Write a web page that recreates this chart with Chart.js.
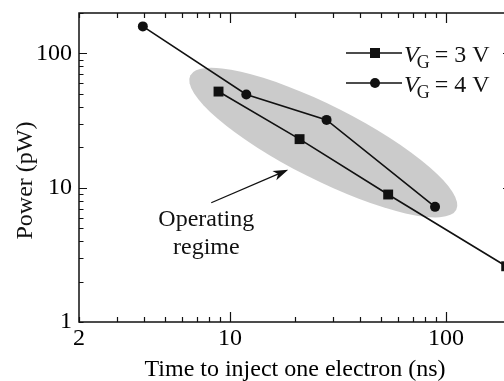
<!DOCTYPE html>
<html>
<head>
<meta charset="utf-8">
<script src="https://cdn.jsdelivr.net/npm/chart.js@4/dist/chart.umd.min.js"></script>
<style>
    html, body { margin: 0; padding: 0; background: #fff; overflow: hidden; }
    #wrap { width: 504px; height: 381px; overflow: hidden; }
</style>
</head>
<body>
<div id="wrap"><canvas id="powerChart" width="530" height="381"></canvas></div>
<script>
// V_G = 3 V (squares)
const timeVg3 = [8.85, 21, 54, 190];
const powerVg3 = [52, 23, 8.9, 2.6];
// V_G = 4 V (circles)
const timeVg4 = [3.95, 11.9, 28, 89];
const powerVg4 = [159, 49.5, 32, 7.2];

// axis ticks
const xTickValues = [2, 3, 4, 5, 6, 7, 8, 9, 10, 20, 30, 40, 50, 60, 70, 80, 90, 100, 200];
const xTickLabels = [2, 10, 100];
const yTickValues = [1, 2, 3, 4, 5, 6, 7, 8, 9, 10, 20, 30, 40, 50, 60, 70, 80, 90, 100, 200];
const yTickLabels = [1, 10, 100];

// "Operating regime" annotation, in data units
const regimeStart = [6.55, 68.5];
const regimeEnd = [111.6, 6.86];
const arrowFrom = [8.19, 7.73];
const arrowTo = [18.6, 13.6];
const regimeText = ['Operating', 'regime'];
const regimeTextAt = [7.77, 5.77];

const FONT = "'Liberation Serif', 'Times New Roman', serif";
const INK = '#111';

const toPoints = (xs, ys) => xs.map((v, i) => ({ x: v, y: ys[i] }));

const decorations = {
    id: 'decorations',
    beforeDatasetsDraw(chart) {
        const { ctx, scales: { x, y } } = chart;
        const x1 = x.getPixelForValue(regimeStart[0]);
        const y1 = y.getPixelForValue(regimeStart[1]);
        const x2 = x.getPixelForValue(regimeEnd[0]);
        const y2 = y.getPixelForValue(regimeEnd[1]);
        const a = Math.hypot(x2 - x1, y2 - y1) / 2;
        ctx.save();
        ctx.fillStyle = '#cbcbcb';
        ctx.beginPath();
        ctx.ellipse((x1 + x2) / 2, (y1 + y2) / 2, a, 37, Math.atan2(y2 - y1, x2 - x1), 0, Math.PI * 2);
        ctx.fill();
        ctx.restore();
    },
    afterDraw(chart) {
        const { ctx, chartArea: area, scales: { x, y } } = chart;
        ctx.save();
        ctx.strokeStyle = INK;
        ctx.fillStyle = INK;

        // frame
        ctx.lineWidth = 1.5;
        ctx.strokeRect(area.left, area.top, area.right - area.left, area.bottom - area.top);

        // inward ticks on all four sides
        ctx.lineWidth = 1.2;
        ctx.beginPath();
        xTickValues.forEach((v) => {
            const px = Math.round(x.getPixelForValue(v)) + 0.5;
            const len = v === 10 || v === 100 ? 10 : 5;
            ctx.moveTo(px, area.bottom);
            ctx.lineTo(px, area.bottom - len);
            ctx.moveTo(px, area.top);
            ctx.lineTo(px, area.top + len);
        });
        yTickValues.forEach((v) => {
            const py = Math.round(y.getPixelForValue(v)) + 0.5;
            const len = v === 10 || v === 100 ? 8 : 4.5;
            ctx.moveTo(area.left, py);
            ctx.lineTo(area.left + len, py);
            ctx.moveTo(area.right, py);
            ctx.lineTo(area.right - len, py);
        });
        ctx.stroke();

        // y axis title
        ctx.font = `24px ${FONT}`;
        ctx.textAlign = 'center';
        ctx.textBaseline = 'middle';
        ctx.save();
        ctx.translate(26, (area.top + area.bottom) / 2 + 13);
        ctx.rotate(-Math.PI / 2);
        ctx.fillText('Power (pW)', 0, 0);
        ctx.restore();

        // arrow to the operating regime
        const ax1 = x.getPixelForValue(arrowFrom[0]);
        const ay1 = y.getPixelForValue(arrowFrom[1]);
        const ax2 = x.getPixelForValue(arrowTo[0]);
        const ay2 = y.getPixelForValue(arrowTo[1]);
        const ang = Math.atan2(ay2 - ay1, ax2 - ax1);
        ctx.lineWidth = 1.3;
        ctx.beginPath();
        ctx.moveTo(ax1, ay1);
        ctx.lineTo(ax2 - 10 * Math.cos(ang), ay2 - 10 * Math.sin(ang));
        ctx.stroke();
        ctx.beginPath();
        ctx.moveTo(ax2, ay2);
        ctx.lineTo(ax2 - 15 * Math.cos(ang) + 5 * Math.sin(ang), ay2 - 15 * Math.sin(ang) - 5 * Math.cos(ang));
        ctx.lineTo(ax2 - 11 * Math.cos(ang), ay2 - 11 * Math.sin(ang));
        ctx.lineTo(ax2 - 15 * Math.cos(ang) - 5 * Math.sin(ang), ay2 - 15 * Math.sin(ang) + 5 * Math.cos(ang));
        ctx.closePath();
        ctx.fill();

        // annotation text
        const tx = x.getPixelForValue(regimeTextAt[0]);
        const ty = y.getPixelForValue(regimeTextAt[1]);
        ctx.textAlign = 'center';
        ctx.textBaseline = 'middle';
        ctx.fillText(regimeText[0], tx, ty);
        ctx.fillText(regimeText[1], tx, ty + 28);

        // legend
        const rows = [
            { label: '3 V', style: 'rect', yPos: 53 },
            { label: '4 V', style: 'circle', yPos: 83 },
        ];
        rows.forEach((row) => {
            ctx.lineWidth = 1.6;
            ctx.beginPath();
            ctx.moveTo(346, row.yPos);
            ctx.lineTo(402, row.yPos);
            ctx.stroke();
            ctx.beginPath();
            if (row.style === 'rect') {
                ctx.rect(370, row.yPos - 5, 10, 10);
            } else {
                ctx.arc(375, row.yPos, 5, 0, Math.PI * 2);
            }
            ctx.fill();

            const base = row.yPos + 8.5;
            ctx.textAlign = 'left';
            ctx.textBaseline = 'alphabetic';
            let cx = 404;
            ctx.font = `italic 24px ${FONT}`;
            ctx.fillText('V', cx, base);
            cx += ctx.measureText('V').width - 2;
            ctx.font = `18px ${FONT}`;
            ctx.fillText('G', cx, base + 6);
            cx += ctx.measureText('G').width + 5;
            ctx.font = `24px ${FONT}`;
            ctx.fillText(`= ${row.label}`, cx, base);
        });
        ctx.restore();
    },
};

const ctx = document.getElementById('powerChart').getContext('2d');

const powerChart = new Chart(ctx, {
    type: 'scatter',
    data: {
        datasets: [
            {
                label: 'VG = 3 V',
                data: toPoints(timeVg3, powerVg3),
                showLine: true,
                borderColor: INK,
                borderWidth: 1.6,
                pointStyle: 'rect',
                pointRadius: 7,
                pointBackgroundColor: INK,
                pointBorderWidth: 0,
            },
            {
                label: 'VG = 4 V',
                data: toPoints(timeVg4, powerVg4),
                showLine: true,
                borderColor: INK,
                borderWidth: 1.6,
                pointStyle: 'circle',
                pointRadius: 5,
                pointBackgroundColor: INK,
                pointBorderWidth: 0,
            },
        ],
    },
    options: {
        responsive: false,
        animation: false,
        devicePixelRatio: 1,
        layout: {
            padding: { top: 13, right: 19, left: 0, bottom: 0 },
        },
        plugins: {
            legend: { display: false },
            tooltip: { enabled: false },
        },
        scales: {
            x: {
                type: 'logarithmic',
                min: 2,
                max: 200,
                afterBuildTicks: (scale) => {
                    scale.ticks = xTickValues.map((v) => ({ value: v }));
                },
                afterFit: (scale) => {
                    scale.height = 59;
                    scale.paddingLeft = 0;
                    scale.paddingRight = 0;
                },
                grid: { display: false, drawTicks: false },
                border: { display: false },
                ticks: {
                    autoSkip: false,
                    maxRotation: 0,
                    padding: 2,
                    color: '#000',
                    font: { family: FONT, size: 24 },
                    callback: (value) => (xTickLabels.includes(value) ? String(value) : ''),
                },
                title: {
                    display: true,
                    text: 'Time to inject one electron (ns)',
                    color: '#000',
                    font: { family: FONT, size: 24 },
                    padding: { top: 0, bottom: -3 },
                },
            },
            y: {
                type: 'logarithmic',
                min: 1,
                max: 200,
                afterBuildTicks: (scale) => {
                    scale.ticks = yTickValues.map((v) => ({ value: v }));
                },
                afterFit: (scale) => {
                    scale.width = 79;
                    scale.paddingTop = 0;
                    scale.paddingBottom = 0;
                },
                grid: { display: false, drawTicks: false },
                border: { display: false },
                ticks: {
                    autoSkip: false,
                    padding: 7,
                    color: '#000',
                    font: { family: FONT, size: 24 },
                    callback: (value) => (yTickLabels.includes(value) ? String(value) : ''),
                },
            },
        },
    },
    plugins: [decorations],
});
</script>
</body>
</html>
